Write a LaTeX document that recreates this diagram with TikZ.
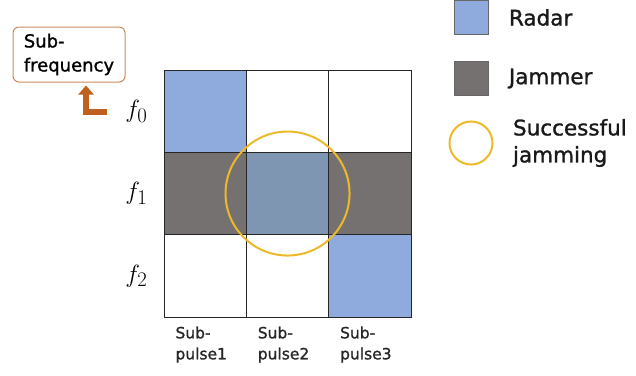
\documentclass[tikz,border=0pt]{standalone}
\usepackage{fontspec}
\setsansfont{DejaVu Sans}
\newfontfamily\labelfont{DejaVu Sans}[FakeBold=1.2]
\usetikzlibrary{positioning, calc, arrows.meta}

\definecolor{radarblue}{HTML}{8FAADC}
\definecolor{jamgray}{HTML}{767171}
\definecolor{overlapblue}{HTML}{7F96B2}
\definecolor{hitgold}{HTML}{EDB92A}
\definecolor{subbrown}{HTML}{C98A5E}
\definecolor{arrowbrown}{HTML}{C0601E}

\tikzset{
  cell/.style={draw=black!85, line width=0.9pt, minimum size=82.33pt, inner sep=0pt, outer sep=0pt},
  pulsetext/.style={font=\labelfont\fontsize{15.5}{21}\selectfont, align=left, text=black!85},
  legendtext/.style={font=\labelfont\fontsize{21.5}{26}\selectfont, align=left, anchor=west, text=black!90},
  freqtext/.style={font=\fontsize{32}{38}\selectfont},
  legendbox/.style={draw=black!60, line width=0.8pt, minimum size=34pt, inner sep=0pt}
}

\begin{document}
\begin{tikzpicture}[x=1pt, y=-1pt]
    \useasboundingbox (0,0) rectangle (636,375);
    % time-frequency grid
    \node[cell, fill=radarblue] (c00) at (205.2,111.2) {};
    \node[cell, right=0pt of c00] (c01) {};
    \node[cell, right=0pt of c01] (c02) {};
    \node[cell, fill=jamgray, below=0pt of c00] (c10) {};
    \node[cell, fill=overlapblue, right=0pt of c10] (c11) {};
    \node[cell, fill=jamgray, right=0pt of c11] (c12) {};
    \node[cell, below=0pt of c10] (c20) {};
    \node[cell, right=0pt of c20] (c21) {};
    \node[cell, fill=radarblue, right=0pt of c21] (c22) {};
    \node[draw=hitgold, circle, line width=2pt, minimum size=124pt, inner sep=0pt] (hit) at (c11) {};

    % sub-frequency labels
    \node[freqtext, left=13pt of c00] (f0) {$f_0$};
    \node[freqtext, left=13pt of c10] (f1) {$f_1$};
    \node[freqtext, left=13pt of c20] (f2) {$f_2$};

    % sub-pulse labels
    \node[pulsetext, below=6pt of c20, xshift=-4pt] (p1) {Sub-\\pulse1};
    \node[pulsetext, below=6pt of c21, xshift=-4pt] (p2) {Sub-\\pulse2};
    \node[pulsetext, below=6pt of c22, xshift=-4pt] (p3) {Sub-\\pulse3};

    % axis note
    \node[draw=subbrown, line width=1pt, rounded corners=6pt, align=left, font=\labelfont\fontsize{18}{24}\selectfont,
          minimum width=112pt, minimum height=55pt, inner sep=2pt] (subf) at (69,54.5) {Sub-\\frequency};
    \coordinate (arrs) at (107,112);
    \coordinate (arrt) at ($(subf.south)+(17,3)$);
    \draw[arrowbrown, line width=5.5pt, -{Triangle[width=15pt,length=9pt]}] (arrs) -| (arrt);

    % legend
    \node[legendbox, fill=radarblue] (lr) at (471,17.5) {};
    \node[legendbox, fill=jamgray] (lj) at (471,78.5) {};
    \node[draw=hitgold, circle, line width=2pt, minimum size=43pt, inner sep=0pt] (lh) at (471,143) {};
    \node[legendtext, right=17pt of lr] (tr) {Radar};
    \node[legendtext, right=17pt of lj] (tj) {Jammer};
    \node[legendtext, right=16pt of lh, font=\labelfont\fontsize{21.5}{27}\selectfont] (th) {Successful\\jamming};
\end{tikzpicture}
\end{document}
